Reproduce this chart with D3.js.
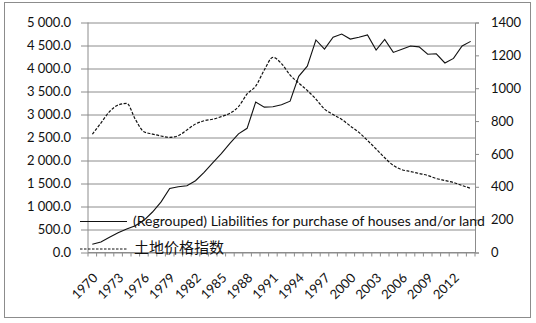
<!DOCTYPE html>
<html><head><meta charset="utf-8">
<script src="https://cdn.jsdelivr.net/npm/d3@7"></script>
<style>body{margin:0;background:#fff;} svg{display:block;}</style>
</head><body><svg id="c" width="536" height="323"></svg>
<script>
const years = d3.range(1970, 2015).map(String);
const xTickLabels = ["1970","1973","1976","1979","1982","1985","1988","1991","1994","1997","2000","2003","2006","2009","2012"];
const liabilities = [180,230,330,430,510,580,700,880,1100,1390,1430,1450,1560,1740,1950,2150,2370,2580,2700,3270,3160,3170,3210,3290,3830,4050,4620,4420,4680,4750,4640,4680,4730,4400,4630,4350,4420,4490,4470,4310,4320,4120,4220,4490,4590];
const landPrice = [720,788,857,898,908,811,735,721,709,701,711,746,782,802,811,827,847,888,965,1013,1111,1188,1150,1080,1032,986,934,873,840,810,770,731,682,630,577,530,504,493,481,469,450,438,426,408,390];
const leftTicks = d3.range(0, 5001, 500);
const rightTicks = d3.range(0, 1401, 200);
const seriesNames = ["(Regrouped) Liabilities for purchase of houses and/or land", "土地价格指数"];

const svg = d3.select("#c");
const L = 88, R = 475, T = 22.5, B = 252.5;
const font = "Lato, 'Open Sans', sans-serif";

svg.append("rect").attr("x",4.5).attr("y",2.5).attr("width",526).attr("height",315)
  .attr("fill","#fff").attr("stroke","#8c8c8c").attr("stroke-width",1);

const x = d3.scaleBand().domain(years).range([L, R]).padding(0);
const yL = d3.scaleLinear().domain([0, 5000]).range([B, T]);
const yR = d3.scaleLinear().domain([0, 1400]).range([B, T]);

// gridlines + left axis
const gL = svg.append("g").attr("transform", `translate(${L},0)`)
  .call(d3.axisLeft(yL).tickValues(leftTicks).tickSize(0).tickPadding(0).tickFormat(d => d3.format(",.1f")(d).replace(/,/g, " ")));
gL.select(".domain").remove();
gL.selectAll(".tick line").attr("x1", -7).attr("x2", R - L).attr("stroke", "#8c8c8c");
gL.selectAll(".tick text").attr("x", -17).attr("font-family", font).attr("font-size", 13).attr("fill", "#111");

// right axis
const gR = svg.append("g").attr("transform", `translate(${R},0)`)
  .call(d3.axisRight(yR).tickValues(rightTicks).tickSize(4).tickPadding(12).tickFormat(d3.format("d")));
gR.select(".domain").attr("stroke", "#8c8c8c");
gR.selectAll(".tick line").attr("stroke", "#8c8c8c");
gR.selectAll(".tick text").attr("font-family", font).attr("font-size", 13).attr("fill", "#111");

// left axis line
svg.append("line").attr("x1", L).attr("x2", L).attr("y1", T).attr("y2", B).attr("stroke", "#8c8c8c");

// x axis
const gX = svg.append("g").attr("transform", `translate(0,${B})`);
gX.append("line").attr("x1", L).attr("x2", R).attr("stroke", "#8c8c8c");
const bounds = years.map(y => x(y)).concat([R]);
gX.selectAll("line.tk").data(bounds).join("line").attr("class","tk")
  .attr("x1", d => d).attr("x2", d => d).attr("y1", 0).attr("y2", 4).attr("stroke", "#8c8c8c");
gX.selectAll("text").data(xTickLabels).join("text")
  .attr("transform", d => `translate(${x(d) + x.bandwidth()/2 + 3},${23}) rotate(-45)`)
  .attr("text-anchor", "end").attr("dy", "0.35em")
  .attr("font-family", font).attr("font-size", 13).attr("fill", "#111").text(d => d);

const cx = d => x(d) + x.bandwidth()/2;

// legend
const leg = svg.append("g");
leg.append("line").attr("x1", 80).attr("x2", 127).attr("y1", 221.5).attr("y2", 221.5).attr("stroke", "#111").attr("stroke-width", 1.2);
leg.append("text").attr("x", 133).attr("y", 221.5).attr("dy", "0.35em").attr("font-family", font).attr("font-size", 14).attr("fill", "#111").text(seriesNames[0]);
leg.append("line").attr("x1", 80).attr("x2", 127).attr("y1", 249).attr("y2", 249).attr("stroke", "#111").attr("stroke-width", 1.2).attr("stroke-dasharray", "2.5,1.5");
leg.append("text").attr("x", 134).attr("y", 248).attr("dy", "0.35em").attr("font-family", "'Noto Sans CJK SC', sans-serif").attr("font-size", 15).attr("fill", "#111").text(seriesNames[1]);

// series
svg.append("path").datum(years.map((y,i) => [cx(y), yR(landPrice[i])]))
  .attr("d", d3.line().curve(d3.curveMonotoneX))
  .attr("fill", "none").attr("stroke", "#111").attr("stroke-width", 1.2).attr("stroke-dasharray", "3,1.5");
svg.append("path").datum(years.map((y,i) => [cx(y), yL(liabilities[i])]))
  .attr("d", d3.line())
  .attr("fill", "none").attr("stroke", "#111").attr("stroke-width", 1.1);
</script></body></html>
